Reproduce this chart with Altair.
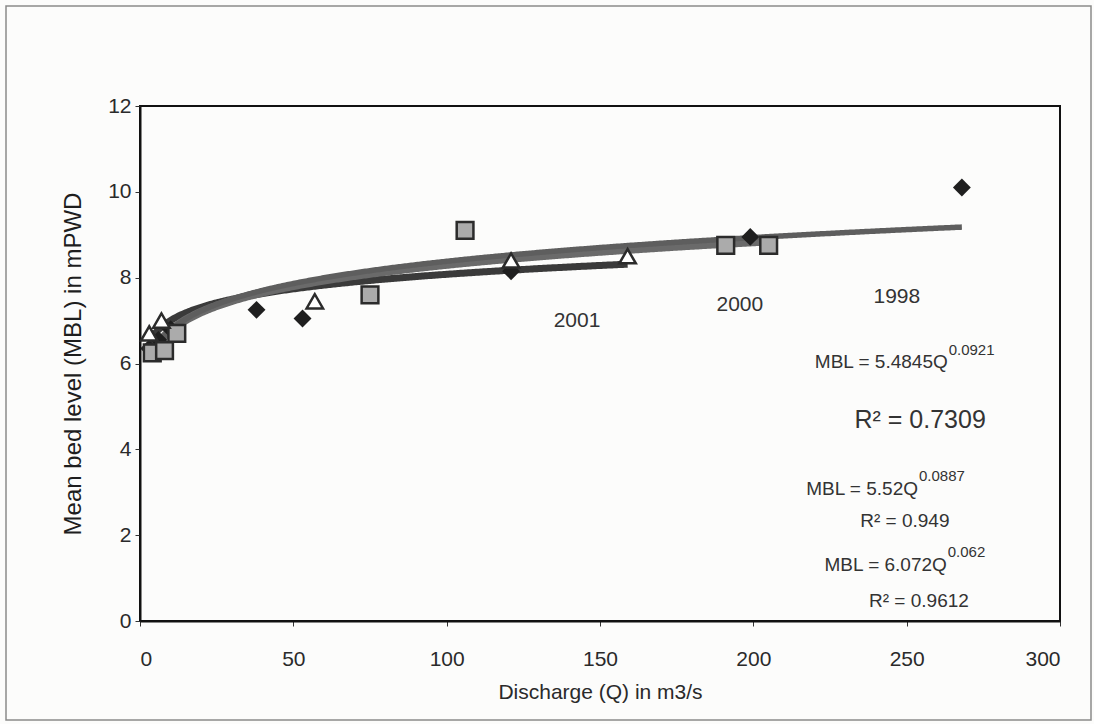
import altair as alt
import pandas as pd

# Surveyed points per year: discharge Q (m3/s) and mean bed level MBL (mPWD)
q_1998 = [3, 6, 10, 38, 53, 121, 199, 268]
mbl_1998 = [6.35, 6.55, 6.8, 7.25, 7.05, 8.15, 8.95, 10.1]
q_2000 = [4, 8, 12, 75, 106, 191, 205]
mbl_2000 = [6.25, 6.3, 6.7, 7.6, 9.1, 8.75, 8.75]
q_2001 = [3, 7, 57, 121, 159]
mbl_2001 = [6.7, 7.0, 7.45, 8.4, 8.5]

# Power-law trend lines MBL = a * Q^b, one per year
fit_years = ["1998", "2000", "2001"]
fit_a = [5.4845, 5.52, 6.072]
fit_b = [0.0921, 0.0887, 0.062]
fit_a_text = ["5.4845", "5.52", "6.072"]
fit_b_text = ["0.0921", "0.0887", "0.062"]
fit_r2_text = ["0.7309", "0.949", "0.9612"]
fit_q_start = [4, 4, 4]
fit_q_end = [268, 205, 159]

x_ticks = [0, 50, 100, 150, 200, 250, 300]
y_ticks = [0, 2, 4, 6, 8, 10, 12]

NARROW = "Liberation Sans Narrow, Arial Narrow, Liberation Sans, Arial, sans-serif"
SANS = "Liberation Sans, Arial, sans-serif"

x_scale = alt.Scale(domain=[0, 300], nice=False, zero=True)
y_scale = alt.Scale(domain=[0, 12], nice=False)

x_axis = alt.Axis(values=x_ticks, title="Discharge (Q) in m3/s", grid=False,
                  tickSize=5, labelPadding=22, titlePadding=12,
                  labelFontSize=21, titleFontSize=21, titleFontWeight="normal",
                  labelFont=SANS, titleFont=SANS, labelColor="#2a2a2a", titleColor="#2a2a2a",
                  domainColor="#111", domainWidth=2, tickColor="#333")
y_axis = alt.Axis(values=y_ticks, title="Mean bed level (MBL) in mPWD", grid=False,
                  tickSize=5, labelPadding=4, titlePadding=22,
                  labelFontSize=21, titleFontSize=24, titleFontWeight="normal",
                  labelFont=SANS, titleFont=SANS, labelColor="#2a2a2a", titleColor="#1e1e1e",
                  domainColor="#111", domainWidth=2, tickColor="#333")

points = pd.concat([
    pd.DataFrame({"Q": q_1998, "MBL": mbl_1998, "year": "1998"}),
    pd.DataFrame({"Q": q_2000, "MBL": mbl_2000, "year": "2000"}),
    pd.DataFrame({"Q": q_2001, "MBL": mbl_2001, "year": "2001"}),
])

line_styles = {"2000": ("#6a6a6a", 8.5), "1998": ("#5e5e5e", 5.5), "2001": ("#3a3a3a", 7)}


def trend(i):
    year = fit_years[i]
    color, width = line_styles[year]
    return (
        alt.Chart(alt.sequence(fit_q_start[i], fit_q_end[i] + 0.5, 0.5, as_="Q"))
        .transform_calculate(MBL=f"{fit_a[i]} * pow(datum.Q, {fit_b[i]})")
        .mark_line(color=color, strokeWidth=width, strokeCap="butt")
        .encode(x=alt.X("Q:Q", scale=x_scale, axis=x_axis),
                y=alt.Y("MBL:Q", scale=y_scale, axis=y_axis))
    )


lines = [trend(fit_years.index(y)) for y in ["2001", "2000", "1998"]]

base_pts = alt.Chart(points).encode(
    x=alt.X("Q:Q", scale=x_scale, axis=x_axis),
    y=alt.Y("MBL:Q", scale=y_scale, axis=y_axis),
)
diamonds = base_pts.transform_filter(alt.datum.year == "1998").mark_point(
    shape="diamond", filled=True, size=320, color="#1f1f1f", opacity=1)
squares = base_pts.transform_filter(alt.datum.year == "2000").mark_point(
    shape="square", filled=True, size=280, fill="#ababab", stroke="#2b2b2b",
    strokeWidth=2.5, opacity=1)
triangles = base_pts.transform_filter(alt.datum.year == "2001").mark_point(
    shape="triangle-up", size=270, fill="white", stroke="#2b2b2b",
    strokeWidth=2.5, opacity=1, filled=False)

# Year labels next to their trend lines
year_labels = pd.DataFrame({
    "Q": [142.5, 195.6, 246.8],
    "MBL": [7.0, 7.36, 7.55],
    "text": ["2001", "2000", "1998"],
})
year_text = alt.Chart(year_labels).mark_text(
    font=NARROW, fontSize=21, color="#333", baseline="middle", align="center"
).encode(x=alt.X("Q:Q", scale=x_scale), y=alt.Y("MBL:Q", scale=y_scale), text="text:N")

# Fitted equations: main text ends where the exponent begins
eq_main = pd.DataFrame({
    "Q": [263.4, 253.7, 263.1],
    "MBL": [5.89, 2.94, 1.165],
    "text": [f"MBL = {a}Q" for a in fit_a_text],
})
eq_sup = pd.DataFrame({
    "Q": [263.7, 254.0, 263.4],
    "MBL": [6.2, 3.27, 1.5],
    "text": fit_b_text,
})
r2 = pd.DataFrame({
    "Q": [254.4, 249.4, 254.0],
    "MBL": [4.68, 2.33, 0.466],
    "text": [f"R\u00b2 = {v}" for v in fit_r2_text],
    "size": [25, 19, 19],
})
eq_text = alt.Chart(eq_main).mark_text(
    font=NARROW, fontSize=19, color="#333", align="right", baseline="alphabetic"
).encode(x=alt.X("Q:Q", scale=x_scale), y=alt.Y("MBL:Q", scale=y_scale), text="text:N")
sup_text = alt.Chart(eq_sup).mark_text(
    font=NARROW, fontSize=15, color="#333", align="left", baseline="alphabetic"
).encode(x=alt.X("Q:Q", scale=x_scale), y=alt.Y("MBL:Q", scale=y_scale), text="text:N")
r2_text = alt.Chart(r2).mark_text(
    font=NARROW, color="#333", align="center", baseline="middle"
).encode(x=alt.X("Q:Q", scale=x_scale), y=alt.Y("MBL:Q", scale=y_scale), text="text:N",
         size=alt.Size("size:Q", scale=None, legend=None))

# Thin outer border around the whole figure
frame = alt.Chart(pd.DataFrame({"k": [0]})).mark_rect(
    fill=None, stroke="#8a8a8a", strokeWidth=1.5
).encode(x=alt.value(-134), x2=alt.value(951), y=alt.value(-100), y2=alt.value(614))

chart = alt.layer(
    frame, *lines, diamonds, squares, triangles, year_text, eq_text, sup_text, r2_text
).resolve_scale(x="shared", y="shared").properties(
    width=920, height=515,
    autosize=alt.AutoSizeParams(type="none"),
    padding={"left": 140, "top": 106, "right": 34, "bottom": 103},
    background="#fcfcfb",
).configure_view(
    stroke="#111", strokeWidth=2
)

chart.save("out.html", embed_options={"renderer": "svg", "actions": False})
